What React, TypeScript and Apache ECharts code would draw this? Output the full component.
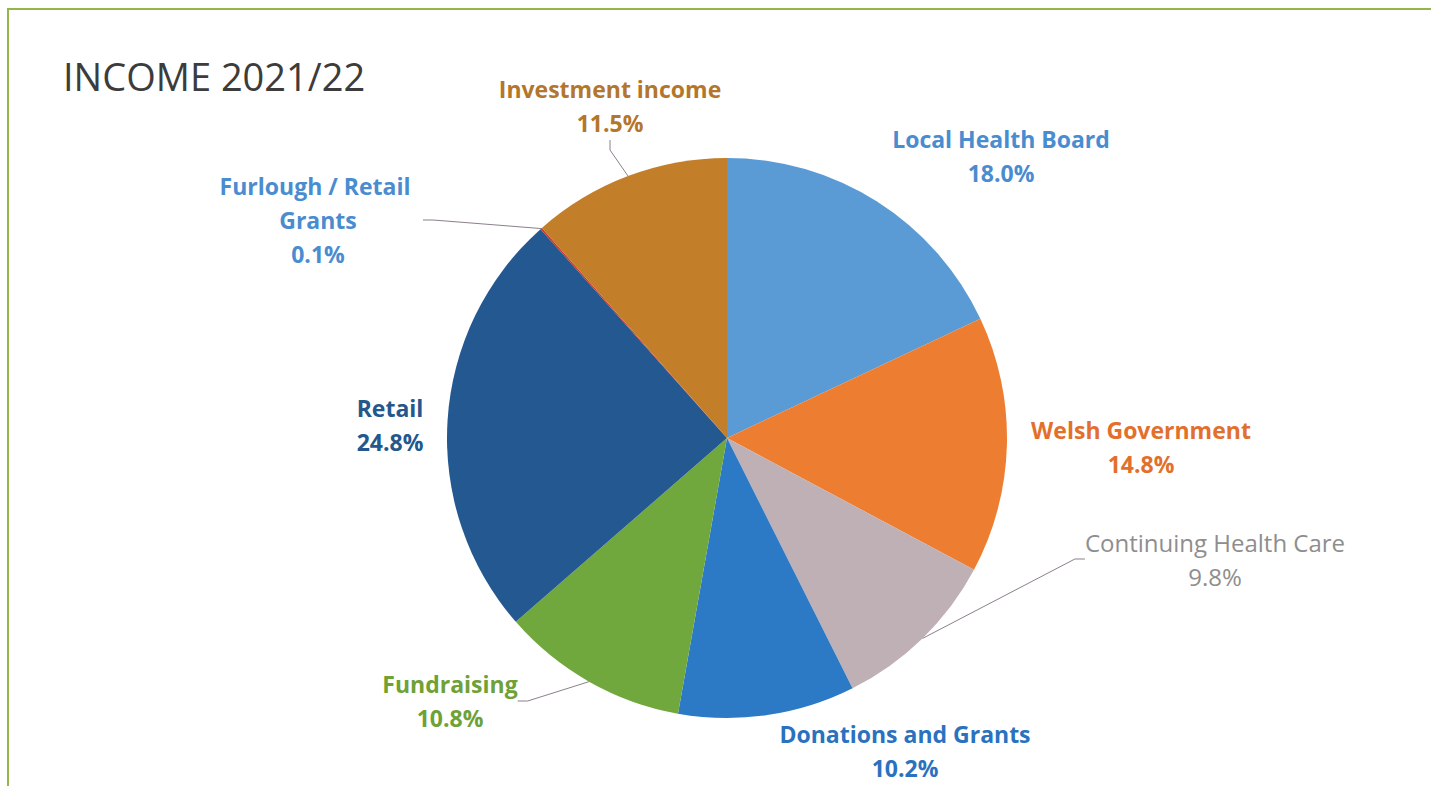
import React, { useEffect, useRef } from "react";
import * as echarts from "echarts";

const categories = [
  "Local Health Board",
  "Welsh Government",
  "Continuing Health Care",
  "Donations and Grants",
  "Fundraising",
  "Retail",
  "Furlough / Retail Grants",
  "Investment income",
];
const values = [18.0, 14.8, 9.8, 10.2, 10.8, 24.8, 0.1, 11.5];

const sliceColors = ["#5B9BD5", "#ED7D31", "#BFB0B6", "#2C79C6", "#71A83E", "#245890", "#C8362C", "#C27E28"];
const labelColors = ["#4A8CD0", "#E2702C", "#8E8E8E", "#2A72C0", "#6EA136", "#24578C", "#4A8CD0", "#B3762C"];
const labelBold = [true, true, false, true, true, true, true, true];
const showLeader = [false, false, true, false, true, false, true, true];
// label block centres (layout only)
const labelPos: [number, number][] = [
  [1001, 156],
  [1141, 447],
  [1215, 559],
  [905, 751],
  [450, 701],
  [390, 425],
  [318, 220],
  [610, 106],
];

export default function App() {
  const ref = useRef<HTMLDivElement>(null);
  useEffect(() => {
    document.body.style.margin = "0";
    const chart = echarts.init(ref.current!, null, { renderer: "svg" });
    chart.setOption({
      animation: false,
      backgroundColor: "#ffffff",
      title: {
        text: "INCOME 2021/22",
        left: 58,
        top: 52,
        textStyle: { fontFamily: "Open Sans", fontSize: 38, fontWeight: "normal", color: "#3C3C3C" },
      },
      graphic: [
        {
          type: "rect",
          shape: { x: 8, y: 9, width: 1440, height: 790 },
          style: { fill: "none", stroke: "#96B548", lineWidth: 2 },
          silent: true,
        },
      ],
      series: [
        {
          type: "pie",
          center: [727, 438],
          radius: [0, 280],
          startAngle: 90,
          clockwise: true,
          avoidLabelOverlap: false,
          label: {
            show: true,
            position: "outside",
            fontFamily: "Open Sans",
            fontSize: 23,
            lineHeight: 34,
            align: "center",
            formatter: (p: any) => `${p.name}\n${Number(p.value).toFixed(1)}%`,
          },
          labelLine: {
            show: true,
            length: 10,
            length2: 10,
            lineStyle: { color: "#8C7F8C", width: 1 },
          },
          labelLayout: (p: any) => {
            const pos = labelPos[p.dataIndex];
            return { x: pos[0], y: pos[1], align: "center", verticalAlign: "middle" };
          },
          itemStyle: { borderWidth: 0 },
          data: categories.map((name, i) => ({
            name,
            value: values[i],
            itemStyle: { color: sliceColors[i] },
            label: {
              color: labelColors[i],
              fontWeight: labelBold[i] ? "bold" : "normal",
              fontSize: i === 2 ? 24 : 23,
              width: i === 6 ? 210 : undefined,
              overflow: i === 6 ? "break" : undefined,
            },
            labelLine: { show: showLeader[i] },
          })),
        },
      ],
    });
    return () => chart.dispose();
  }, []);
  return <div ref={ref} style={{ width: 1431, height: 786 }} />;
}
